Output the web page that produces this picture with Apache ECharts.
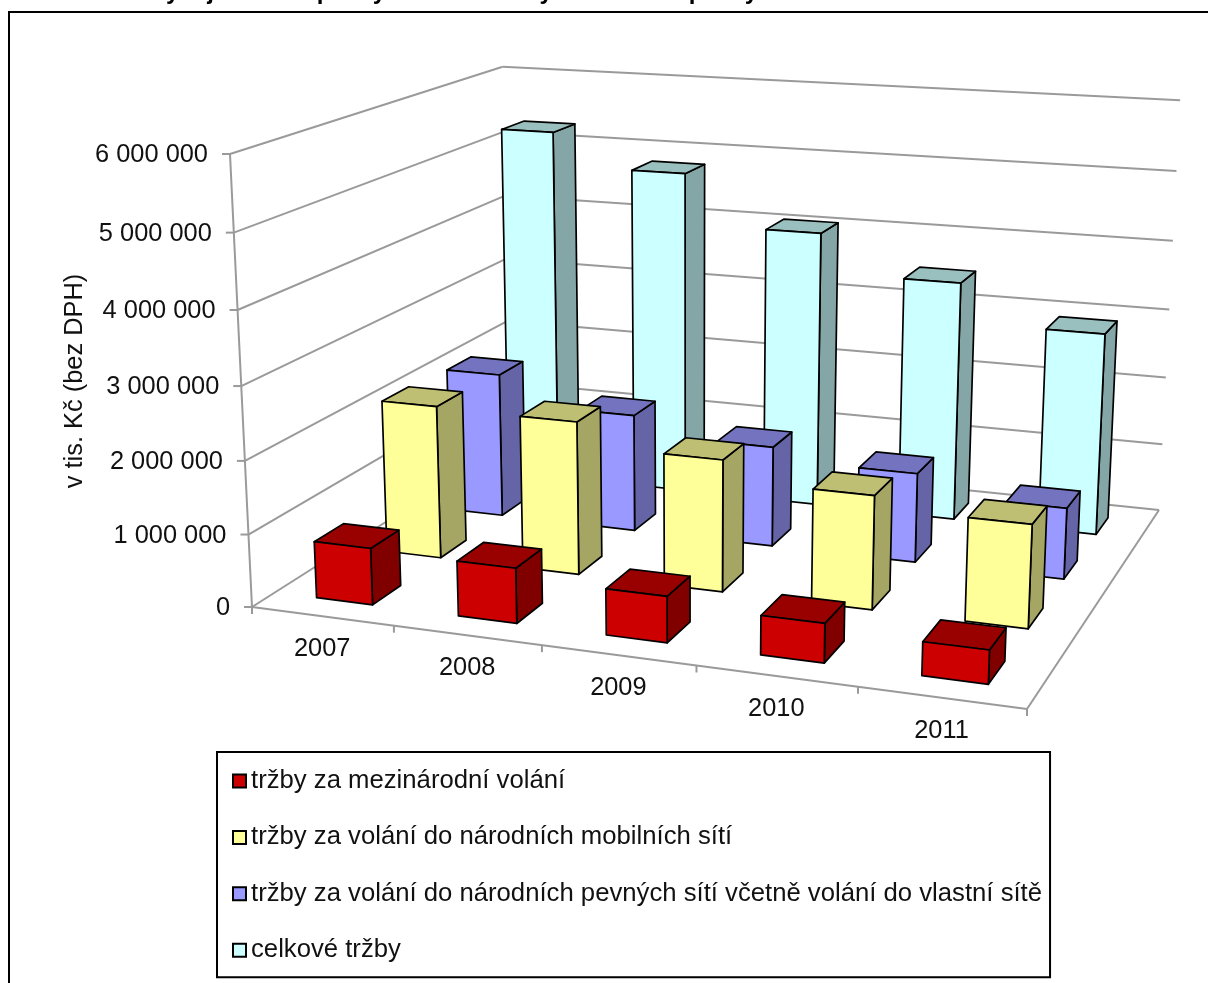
<!DOCTYPE html>
<html>
<head>
<meta charset="utf-8">
<style>html,body{margin:0;padding:0;background:#fff;overflow:hidden}</style>
<script src="https://cdn.jsdelivr.net/npm/echarts@6/dist/echarts.min.js"></script>
</head>
<body>
<div id="main" style="width:1208px;height:983px"></div>
<script>
var years = ['2007', '2008', '2009', '2010', '2011'];
var valueTicks = [0, 1000000, 2000000, 3000000, 4000000, 5000000, 6000000];
var tickLabels = ['0', '1 000 000', '2 000 000', '3 000 000', '4 000 000', '5 000 000', '6 000 000'];
var seriesNames = [
    'tržby za mezinárodní volání',
    'tržby za volání do národních mobilních sítí',
    'tržby za volání do národních pevných sítí včetně volání do vlastní sítě',
    'celkové tržby'
];
var mezinarodni = [780000, 750000, 620000, 520000, 440000];
var mobilni = [2170000, 2150000, 1830000, 1560000, 1400000];
var pevne = [2110000, 1700000, 1440000, 1270000, 1000000];
var celkove = [5290000, 4800000, 4060000, 3490000, 2920000];

var faceColors = ['#cc0000', '#ffff99', '#9999ff', '#ccffff'];
var topColors = ['#990000', '#bfbf73', '#7373bf', '#99bfbf'];
var sideColors = ['#800000', '#a6a664', '#6464a6', '#85a6a6'];

// homografie podlahy: jednotkovy ctverec na ctyruhelnik
var floorQuad = [[252, 607], [1027, 709], [1159, 510], [510, 443]];
var dx1 = floorQuad[1][0] - floorQuad[2][0], dx2 = floorQuad[3][0] - floorQuad[2][0];
var dy1 = floorQuad[1][1] - floorQuad[2][1], dy2 = floorQuad[3][1] - floorQuad[2][1];
var sx = floorQuad[0][0] - floorQuad[1][0] + floorQuad[2][0] - floorQuad[3][0];
var sy = floorQuad[0][1] - floorQuad[1][1] + floorQuad[2][1] - floorQuad[3][1];
var den = dx1 * dy2 - dx2 * dy1;
var hg = (sx * dy2 - dx2 * sy) / den;
var hh = (dx1 * sy - sx * dy1) / den;
// ubeznik svislych hran
var vanish = [690, 9623];
var vScale = -0.04784;

// u podel let, v podel hodnoty, w do hloubky (vse 0..1)
function project(u, v, w) {
    var q = floorQuad;
    var d = 1 + hg * u + hh * w;
    var x = q[0][0] + (q[1][0] * (1 + hg) - q[0][0]) * u + (q[3][0] * (1 + hh) - q[0][0]) * w;
    var y = q[0][1] + (q[1][1] * (1 + hg) - q[0][1]) * u + (q[3][1] * (1 + hh) - q[0][1]) * w;
    var t = v * vScale;
    return [(x + t * vanish[0]) / (d + t), (y + t * vanish[1]) / (d + t)];
}

// skryty grid dava meritka os
var GRID = 900;
var BAR_GAP = 0.3;

function barItem(depth) {
    return function (params, api) {
        var c = api.coord([api.value(0), api.value(1)]);
        var cell = api.size([1, 0])[0] / GRID;
        var center = c[0] / GRID;
        var v = 1 - c[1] / GRID;
        var u0 = center - cell * (0.5 - BAR_GAP), u1 = center + cell * (0.5 - BAR_GAP);
        var w0 = (depth + BAR_GAP) / 4, w1 = (depth + 1 - BAR_GAP) / 4;
        var a = project(u0, 0, w0), b = project(u1, 0, w0), d = project(u1, 0, w1);
        var e = project(u0, v, w0), f = project(u1, v, w0), g = project(u1, v, w1), h = project(u0, v, w1);
        var line = { stroke: '#000', lineWidth: 1.7, lineJoin: 'round' };
        function face(pts, color) {
            return { type: 'polygon', shape: { points: pts }, style: Object.assign({ fill: color }, line) };
        }
        return {
            type: 'group',
            children: [
                face([b, d, g, f], sideColors[depth]),
                face([e, f, g, h], topColors[depth]),
                face([a, b, f, e], faceColors[depth])
            ]
        };
    };
}

function wallItem(params, api) {
    var children = [];
    var lineStyle = { stroke: '#9a9a9a', lineWidth: 2 };
    function seg(p, q) {
        children.push({ type: 'line', shape: { x1: p[0], y1: p[1], x2: q[0], y2: q[1] }, style: lineStyle });
    }
    valueTicks.forEach(function (t, i) {
        var v = 1 - api.coord([0, t])[1] / GRID;
        var front = project(0, v, 0), back = project(0, v, 1), right = project(1, v, 1);
        seg(front, back);
        seg(back, right);
        seg(front, [front[0] - 8, front[1]]);
        children.push({
            type: 'text',
            style: {
                x: front[0] - 22, y: front[1] + 1, text: tickLabels[i], fill: '#111',
                font: '25.4px "Liberation Sans"', textAlign: 'right', textVerticalAlign: 'middle'
            }
        });
    });
    seg(project(0, 0, 0), project(0, 1, 0));
    // podlaha
    seg(project(0, 0, 0), project(1, 0, 0));
    seg(project(1, 0, 0), project(1, 0, 1));
    var cell = api.size([1, 0])[0] / GRID;
    for (var i = 0; i <= years.length; i++) {
        var p = project(i * cell, 0, 0);
        seg(p, [p[0], p[1] + 7]);
    }
    years.forEach(function (y, i) {
        var c = project(api.coord([i, 0])[0] / GRID, 0, 0);
        children.push({
            type: 'text',
            style: {
                x: c[0], y: c[1] + 33, text: y, fill: '#111',
                font: '25.4px "Liberation Sans"', textAlign: 'center', textVerticalAlign: 'middle'
            }
        });
    });
    return { type: 'group', children: children };
}

function barSeries(name, values, depth) {
    return {
        type: 'custom',
        name: name,
        coordinateSystem: 'cartesian2d',
        renderItem: barItem(depth),
        itemStyle: { color: faceColors[depth], borderColor: '#000', borderWidth: 2 },
        encode: { x: 0, y: 1 },
        data: values.map(function (v, i) { return [i, v]; })
    };
}

var chart = echarts.init(document.getElementById('main'), null, { renderer: 'canvas' });
chart.setOption({
    animation: false,
    backgroundColor: '#fff',
    grid: { left: 0, top: 0, width: GRID, height: GRID, show: false },
    xAxis: { type: 'category', data: years, show: false },
    yAxis: { type: 'value', min: 0, max: 6000000, interval: 1000000, show: false },
    legend: {
        orient: 'vertical',
        left: 217,
        top: 752,
        data: seriesNames,
        icon: 'rect',
        itemWidth: 13,
        itemHeight: 13,
        itemGap: 30.4,
        padding: [16, 8, 14, 15],
        borderColor: '#000',
        borderWidth: 2,
        selectedMode: false,
        textStyle: { fontFamily: 'Liberation Sans', fontSize: 25.7, lineHeight: 23, color: '#111' }
    },
    graphic: [
        { type: 'polyline', shape: { points: [[9, 983], [9, 12], [1208, 12]] }, style: { stroke: '#000', lineWidth: 2, fill: null } },
        {
            type: 'text', left: 150, top: -20,
            style: { text: 'Vývoj tržeb za poskytování hlasových služeb v pevných sítích', fill: '#000', font: 'bold 24px "Liberation Sans"' }
        }
    ],
    series: [
        { type: 'custom', coordinateSystem: 'cartesian2d', renderItem: wallItem, silent: true, data: [[0, 0]], encode: { x: 0, y: 1 } },
        barSeries(seriesNames[3], celkove, 3),
        barSeries(seriesNames[2], pevne, 2),
        barSeries(seriesNames[1], mobilni, 1),
        barSeries(seriesNames[0], mezinarodni, 0),
        {
            type: 'custom', coordinateSystem: 'none', silent: true, data: [[0]],
            renderItem: function () {
                return {
                    type: 'text', x: 75, y: 381, rotation: Math.PI / 2,
                    style: { text: 'v tis. Kč (bez DPH)', fill: '#111', font: '25.4px "Liberation Sans"', textAlign: 'center', textVerticalAlign: 'middle' }
                };
            }
        }
    ]
});
</script>
</body>
</html>
